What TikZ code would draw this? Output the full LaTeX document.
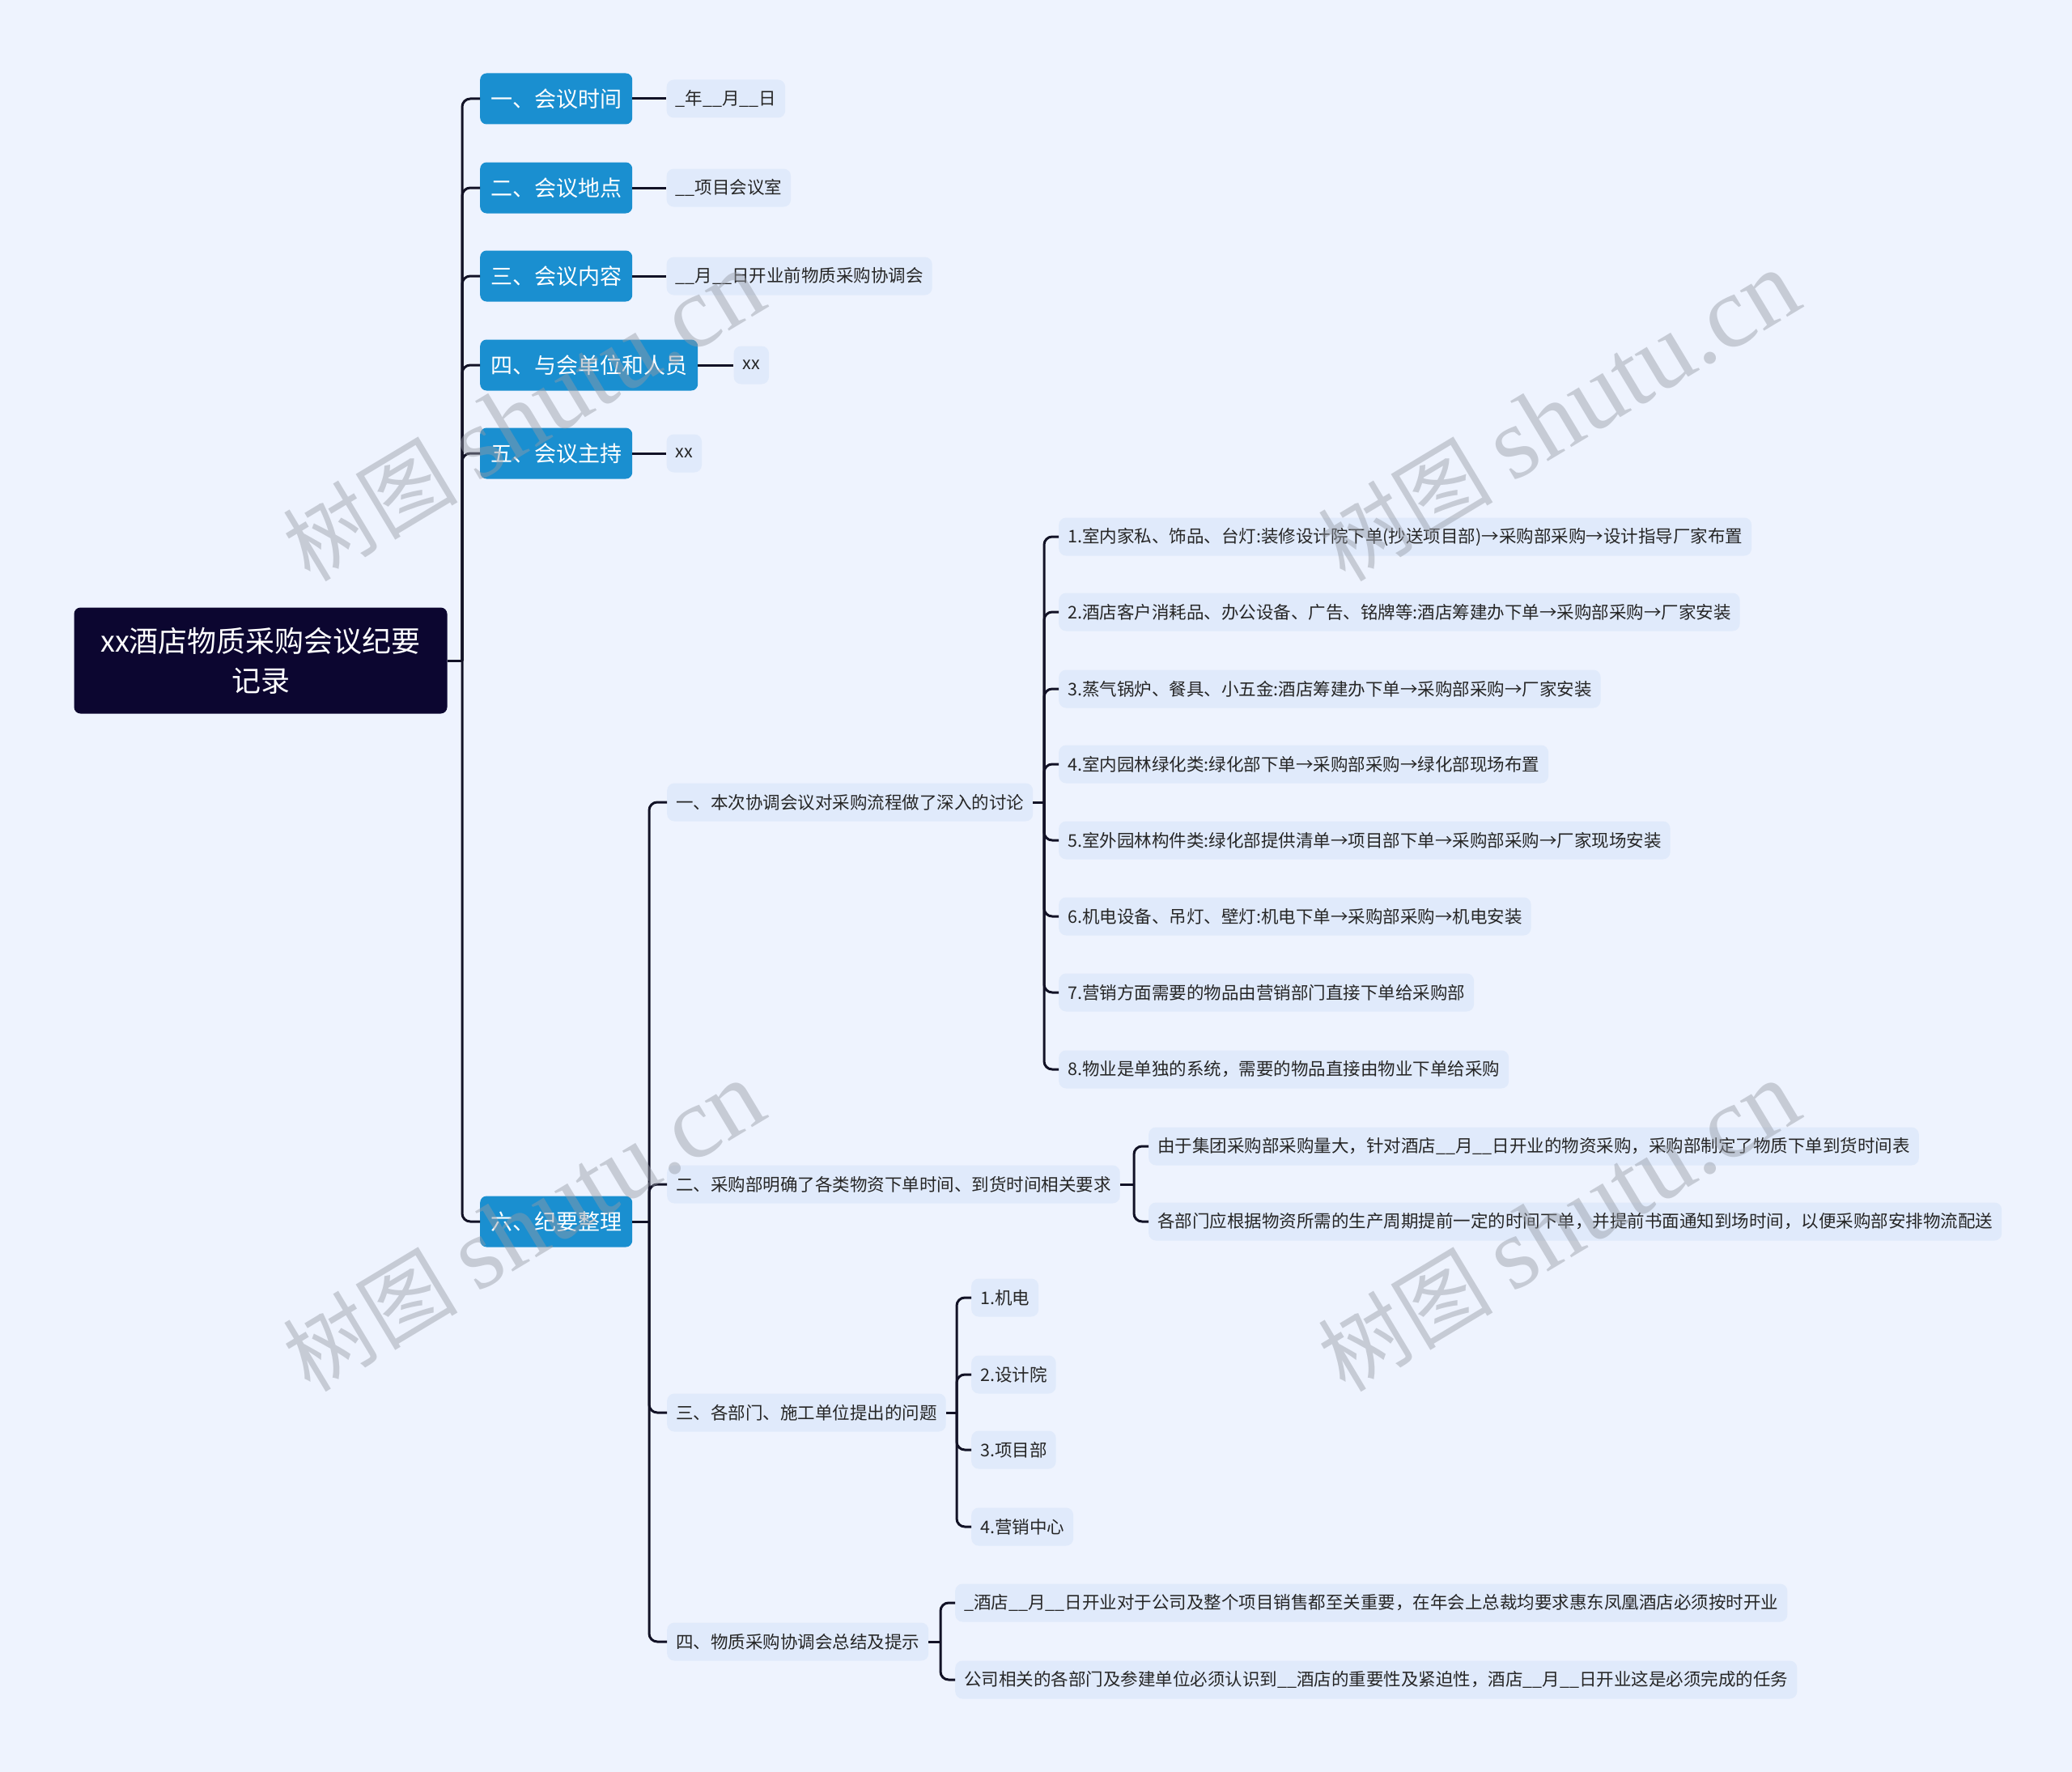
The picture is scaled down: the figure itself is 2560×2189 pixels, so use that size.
\documentclass[tikz,border=0pt]{standalone}
\usepackage{fontspec}
\setmainfont{Noto Sans CJK SC}
\newfontfamily\wmlatin{Liberation Serif}
\usepackage{tikz}
\usetikzlibrary{positioning}

\definecolor{bgcol}{RGB}{238,243,254}
\definecolor{rootnavy}{RGB}{12,6,48}
\definecolor{topicblue}{RGB}{26,143,208}
\definecolor{leafcol}{RGB}{224,234,251}
\definecolor{linecol}{RGB}{18,18,38}
\definecolor{wmgray}{RGB}{150,155,165}

\begin{document}
\begin{tikzpicture}[x=1pt, y=-1pt,
    rootbox/.style={fill=rootnavy, rounded corners=8pt, text=white, align=center,
      minimum width=461pt, minimum height=131pt, font=\fontsize{36}{49}\selectfont},
    topicbox/.style={fill=topicblue, rounded corners=8pt, text=white, anchor=west,
      minimum height=63pt, inner xsep=13pt, font=\fontsize{27}{32}\selectfont},
    leafbox/.style={fill=leafcol, rounded corners=9pt, text=black!85, anchor=west,
      minimum height=47pt, inner xsep=11pt, font=\fontsize{21.5}{26}\selectfont},
    branch/.style={draw=linecol, line width=3pt, rounded corners=10pt},
    wmark/.style={text=wmgray, opacity=0.45, rotate=31}]
  \fill[bgcol] (0,0) rectangle (2560,2189);
  \useasboundingbox (0,0) rectangle (2560,2189);

  % central topic
  \node[rootbox] (root) at (322,816) {xx酒店物质采购会议纪要\\记录};

  % main topics
  \node[topicbox] (t1) at (593,122) {一、会议时间};
  \node[topicbox] (t2) at (593,232) {二、会议地点};
  \node[topicbox] (t3) at (593,341) {三、会议内容};
  \node[topicbox] (t4) at (593,451) {四、与会单位和人员};
  \node[topicbox] (t5) at (593,560) {五、会议主持};
  \node[topicbox] (t6) at (593,1509) {六、纪要整理};

  \node[leafbox, right=42pt of t1] (t1a) {\_年\_\_月\_\_日};
  \node[leafbox, right=42pt of t2] (t2a) {\_\_项目会议室};
  \node[leafbox, right=42pt of t3] (t3a) {\_\_月\_\_日开业前物质采购协调会};
  \node[leafbox, right=44pt of t4] (t4a) {xx};
  \node[leafbox, right=42pt of t5] (t5a) {xx};

  % minutes
  \node[leafbox] (s1) at (824,991) {一、本次协调会议对采购流程做了深入的讨论};
  \node[leafbox] (s2) at (824,1463) {二、采购部明确了各类物资下单时间、到货时间相关要求};
  \node[leafbox] (s3) at (824,1745) {三、各部门、施工单位提出的问题};
  \node[leafbox] (s4) at (824,2028) {四、物质采购协调会总结及提示};

  % purchase flow
  \node[leafbox] (s1a) at (1308,663) {1.室内家私、饰品、台灯:装修设计院下单(抄送项目部)→采购部采购→设计指导厂家布置};
  \node[leafbox] (s1b) at (1308,756) {2.酒店客户消耗品、办公设备、广告、铭牌等:酒店筹建办下单→采购部采购→厂家安装};
  \node[leafbox] (s1c) at (1308,851) {3.蒸气锅炉、餐具、小五金:酒店筹建办下单→采购部采购→厂家安装};
  \node[leafbox] (s1d) at (1308,944) {4.室内园林绿化类:绿化部下单→采购部采购→绿化部现场布置};
  \node[leafbox] (s1e) at (1308,1038) {5.室外园林构件类:绿化部提供清单→项目部下单→采购部采购→厂家现场安装};
  \node[leafbox] (s1f) at (1308,1132) {6.机电设备、吊灯、壁灯:机电下单→采购部采购→机电安装};
  \node[leafbox] (s1g) at (1308,1226) {7.营销方面需要的物品由营销部门直接下单给采购部};
  \node[leafbox] (s1h) at (1308,1321) {8.物业是单独的系统，需要的物品直接由物业下单给采购};

  \node[leafbox] (s2a) at (1419,1416) {由于集团采购部采购量大，针对酒店\_\_月\_\_日开业的物资采购，采购部制定了物质下单到货时间表};
  \node[leafbox] (s2b) at (1419,1509) {各部门应根据物资所需的生产周期提前一定的时间下单，并提前书面通知到场时间，以便采购部安排物流配送};

  \node[leafbox] (s3a) at (1200,1603) {1.机电};
  \node[leafbox] (s3b) at (1200,1698) {2.设计院};
  \node[leafbox] (s3c) at (1200,1791) {3.项目部};
  \node[leafbox] (s3d) at (1200,1886) {4.营销中心};

  \node[leafbox] (s4a) at (1180,1980) {\_酒店\_\_月\_\_日开业对于公司及整个项目销售都至关重要，在年会上总裁均要求惠东凤凰酒店必须按时开业};
  \node[leafbox] (s4b) at (1180,2075) {公司相关的各部门及参建单位必须认识到\_\_酒店的重要性及紧迫性，酒店\_\_月\_\_日开业这是必须完成的任务};

  % forks
  \coordinate (rootfork) at (571,816);
  \coordinate (fork6) at (802,1509);
  \coordinate (fork1) at (1290,991);
  \coordinate (fork2) at (1401,1463);
  \coordinate (fork3) at (1182,1745);
  \coordinate (fork4) at (1162,2028);

  % connectors
  \draw[branch] (root.east) -- (rootfork);
  \draw[branch] (rootfork) |- (t1.west);
  \draw[branch] (rootfork) |- (t2.west);
  \draw[branch] (rootfork) |- (t3.west);
  \draw[branch] (rootfork) |- (t4.west);
  \draw[branch] (rootfork) |- (t5.west);
  \draw[branch] (rootfork) |- (t6.west);

  \draw[branch] (t1.east) -- (t1a.west);
  \draw[branch] (t2.east) -- (t2a.west);
  \draw[branch] (t3.east) -- (t3a.west);
  \draw[branch] (t4.east) -- (t4a.west);
  \draw[branch] (t5.east) -- (t5a.west);

  \draw[branch] (t6.east) -- (fork6);
  \draw[branch] (fork6) |- (s1.west);
  \draw[branch] (fork6) |- (s2.west);
  \draw[branch] (fork6) |- (s3.west);
  \draw[branch] (fork6) |- (s4.west);

  \draw[branch] (s1.east) -- (fork1);
  \draw[branch] (fork1) |- (s1a.west);
  \draw[branch] (fork1) |- (s1b.west);
  \draw[branch] (fork1) |- (s1c.west);
  \draw[branch] (fork1) |- (s1d.west);
  \draw[branch] (fork1) |- (s1e.west);
  \draw[branch] (fork1) |- (s1f.west);
  \draw[branch] (fork1) |- (s1g.west);
  \draw[branch] (fork1) |- (s1h.west);

  \draw[branch] (s2.east) -- (fork2);
  \draw[branch] (fork2) |- (s2a.west);
  \draw[branch] (fork2) |- (s2b.west);

  \draw[branch] (s3.east) -- (fork3);
  \draw[branch] (fork3) |- (s3a.west);
  \draw[branch] (fork3) |- (s3b.west);
  \draw[branch] (fork3) |- (s3c.west);
  \draw[branch] (fork3) |- (s3d.west);

  \draw[branch] (s4.east) -- (fork4);
  \draw[branch] (fork4) |- (s4a.west);
  \draw[branch] (fork4) |- (s4b.west);

  % watermarks
  \node[wmark] (wm1) at (647,514) {\fontsize{108}{112}\selectfont 树图 {\wmlatin\fontsize{126}{130}\selectfont shutu.cn}};
  \node[wmark] (wm2) at (1926,514) {\fontsize{108}{112}\selectfont 树图 {\wmlatin\fontsize{126}{130}\selectfont shutu.cn}};
  \node[wmark] (wm3) at (647,1515) {\fontsize{108}{112}\selectfont 树图 {\wmlatin\fontsize{126}{130}\selectfont shutu.cn}};
  \node[wmark] (wm4) at (1926,1515) {\fontsize{108}{112}\selectfont 树图 {\wmlatin\fontsize{126}{130}\selectfont shutu.cn}};
\end{tikzpicture}
\end{document}
